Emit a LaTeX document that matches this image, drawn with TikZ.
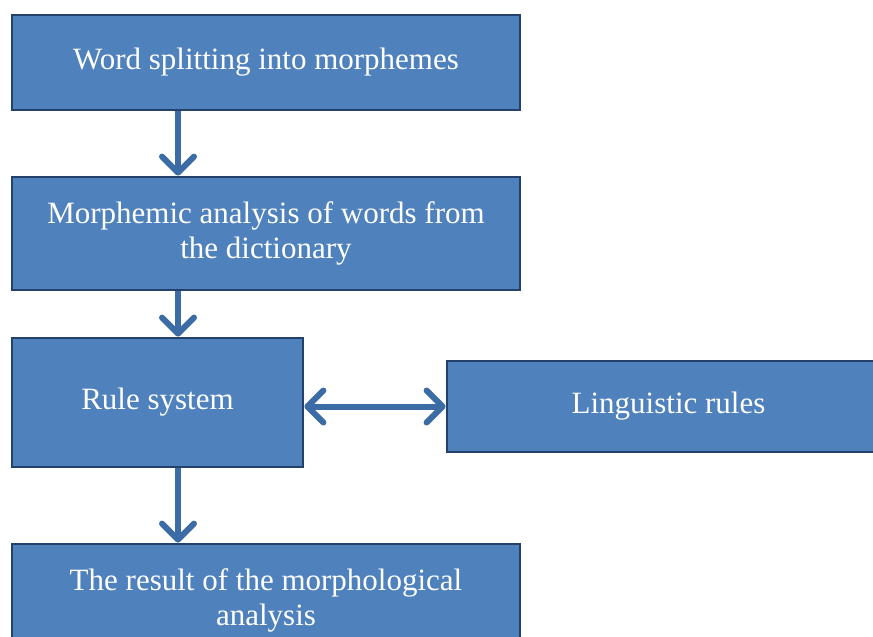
\documentclass[tikz,border=0pt]{standalone}
\usepackage{fontspec}
\setmainfont{Liberation Serif}
\usetikzlibrary{arrows.meta}
\definecolor{boxfill}{HTML}{4F81BD}
\definecolor{boxline}{HTML}{23416A}
\definecolor{arrowblue}{HTML}{3C6CA6}
\begin{document}
\begin{tikzpicture}[x=1pt, y=-1pt,
        stagebox/.style={draw=boxline, line width=2.8pt, fill=boxfill, text=white,
            align=center, inner sep=0pt,
            font=\fontsize{31}{35}\selectfont},
        flow/.style={draw=arrowblue, line width=6pt,
            -{Straight Barb[length=16pt, width=32pt, round]}},
        bothflow/.style={draw=arrowblue, line width=6pt,
            {Straight Barb[length=16pt, width=32pt, round]}-{Straight Barb[length=16pt, width=32pt, round]}}]
        \useasboundingbox (0,0) rectangle (873,637);
        \node[stagebox, minimum width=508pt, minimum height=95pt] (split) at (266,62.5)
            {Word splitting into morphemes};
        \node[stagebox, minimum width=508pt, minimum height=113pt] (dict) at (266,233.5)
            {Morphemic analysis of words from\\the dictionary};
        \node[stagebox, minimum width=291pt, minimum height=129pt] (rules) at (157.5,402.5)
            {Rule system};
        \node[stagebox, minimum width=443pt, minimum height=91pt] (ling) at (668.5,406.5)
            {Linguistic rules};
        \node[stagebox, minimum width=508pt, minimum height=113pt] (result) at (266,600.5)
            {The result of the morphological\\analysis};
        \draw[flow] ([xshift=-88pt]split.south) -- ([xshift=-88pt]dict.north);
        \draw[flow] ([xshift=-88pt]dict.south) -- ([xshift=20.5pt]rules.north);
        \draw[flow] ([xshift=20.5pt]rules.south) -- ([xshift=-88pt]result.north);
        \draw[bothflow] (rules.east |- ling.west) -- (ling.west);
\end{tikzpicture}
\end{document}
